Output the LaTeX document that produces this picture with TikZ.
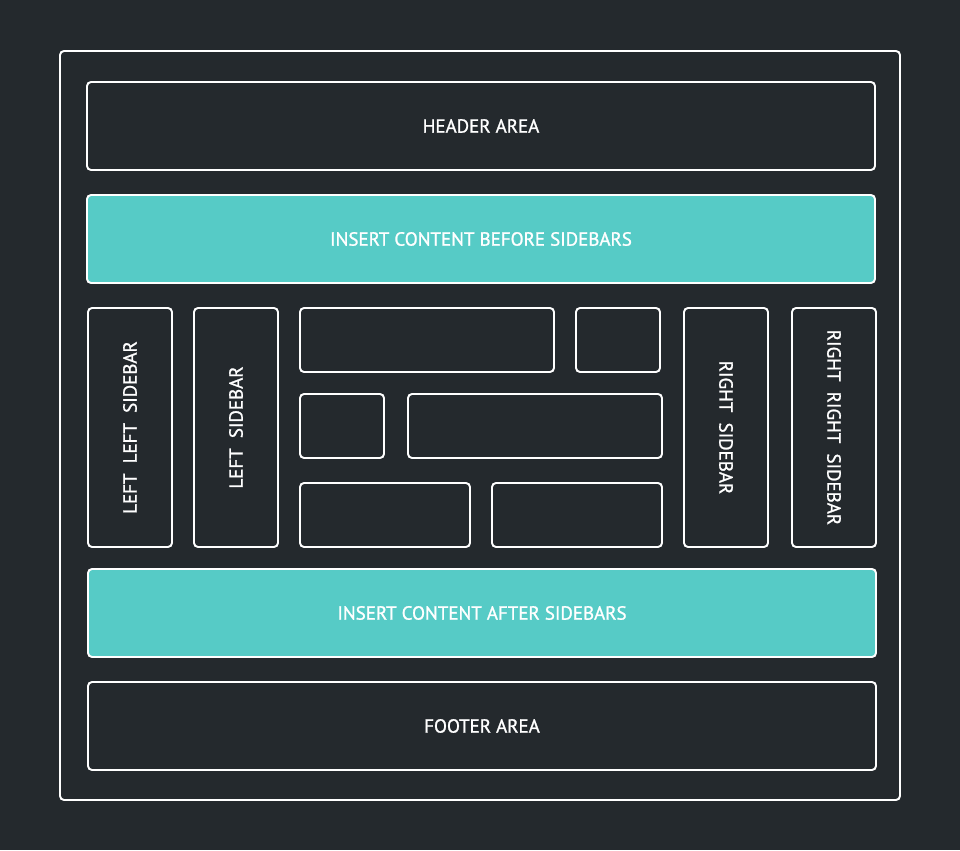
\documentclass[tikz,border=0pt]{standalone}
\usepackage{fontspec}
\setmainfont{PT Sans}
\newfontfamily\labelfont{PT Sans}[FakeBold=1.2]
\definecolor{pagebg}{RGB}{36,41,45}
\definecolor{areateal}{RGB}{86,203,198}
\tikzset{
  area/.style={draw=white, line width=1.1pt, rounded corners=2.3pt, fill=pagebg,
    text=white, font=\labelfont\fontsize{10.8}{12}\selectfont, inner sep=0pt},
  insert/.style={area, fill=areateal},
  wide/.style={minimum width=15.76cm, minimum height=1.76cm},
  side/.style={minimum width=1.68cm, minimum height=4.78cm},
}
\begin{document}
\begin{tikzpicture}
% page and frame
\fill[pagebg] (0,0) rectangle (19.2,17);
\draw[white, line width=1.1pt, rounded corners=2.3pt] (1.2,15.98) rectangle (18.0,1.0);
% full width areas
\node[area, wide] (header) at (9.62,14.48) {HEADER AREA};
\node[insert, wide] (before) at (9.62,12.22) {INSERT CONTENT BEFORE SIDEBARS};
\node[insert, wide] (after) at (9.64,4.74) {INSERT CONTENT AFTER SIDEBARS};
\node[area, wide] (footer) at (9.64,2.48) {FOOTER AREA};
% sidebars
\node[area, side] (leftleft) at (2.6,8.45) {\rotatebox{90}{LEFT\ \ LEFT\ \ SIDEBAR}};
\node[area, side] (left) at (4.72,8.45) {\rotatebox{90}{LEFT\ \ SIDEBAR}};
\node[area, side] (right) at (14.52,8.45) {\rotatebox{-90}{RIGHT\ \ SIDEBAR}};
\node[area, side] (rightright) at (16.68,8.45) {\rotatebox{-90}{RIGHT\ \ RIGHT\ \ SIDEBAR}};
% content blocks
\node[area, minimum width=5.08cm, minimum height=1.28cm] (blockA) at (8.54,10.2) {};
\node[area, minimum width=1.68cm, minimum height=1.28cm] (blockB) at (12.36,10.2) {};
\node[area, minimum width=1.68cm, minimum height=1.28cm] (blockC) at (6.84,8.48) {};
\node[area, minimum width=5.08cm, minimum height=1.28cm] (blockD) at (10.7,8.48) {};
\node[area, minimum width=3.4cm, minimum height=1.28cm] (blockE) at (7.7,6.7) {};
\node[area, minimum width=3.4cm, minimum height=1.28cm] (blockF) at (11.54,6.7) {};
\end{tikzpicture}
\end{document}
